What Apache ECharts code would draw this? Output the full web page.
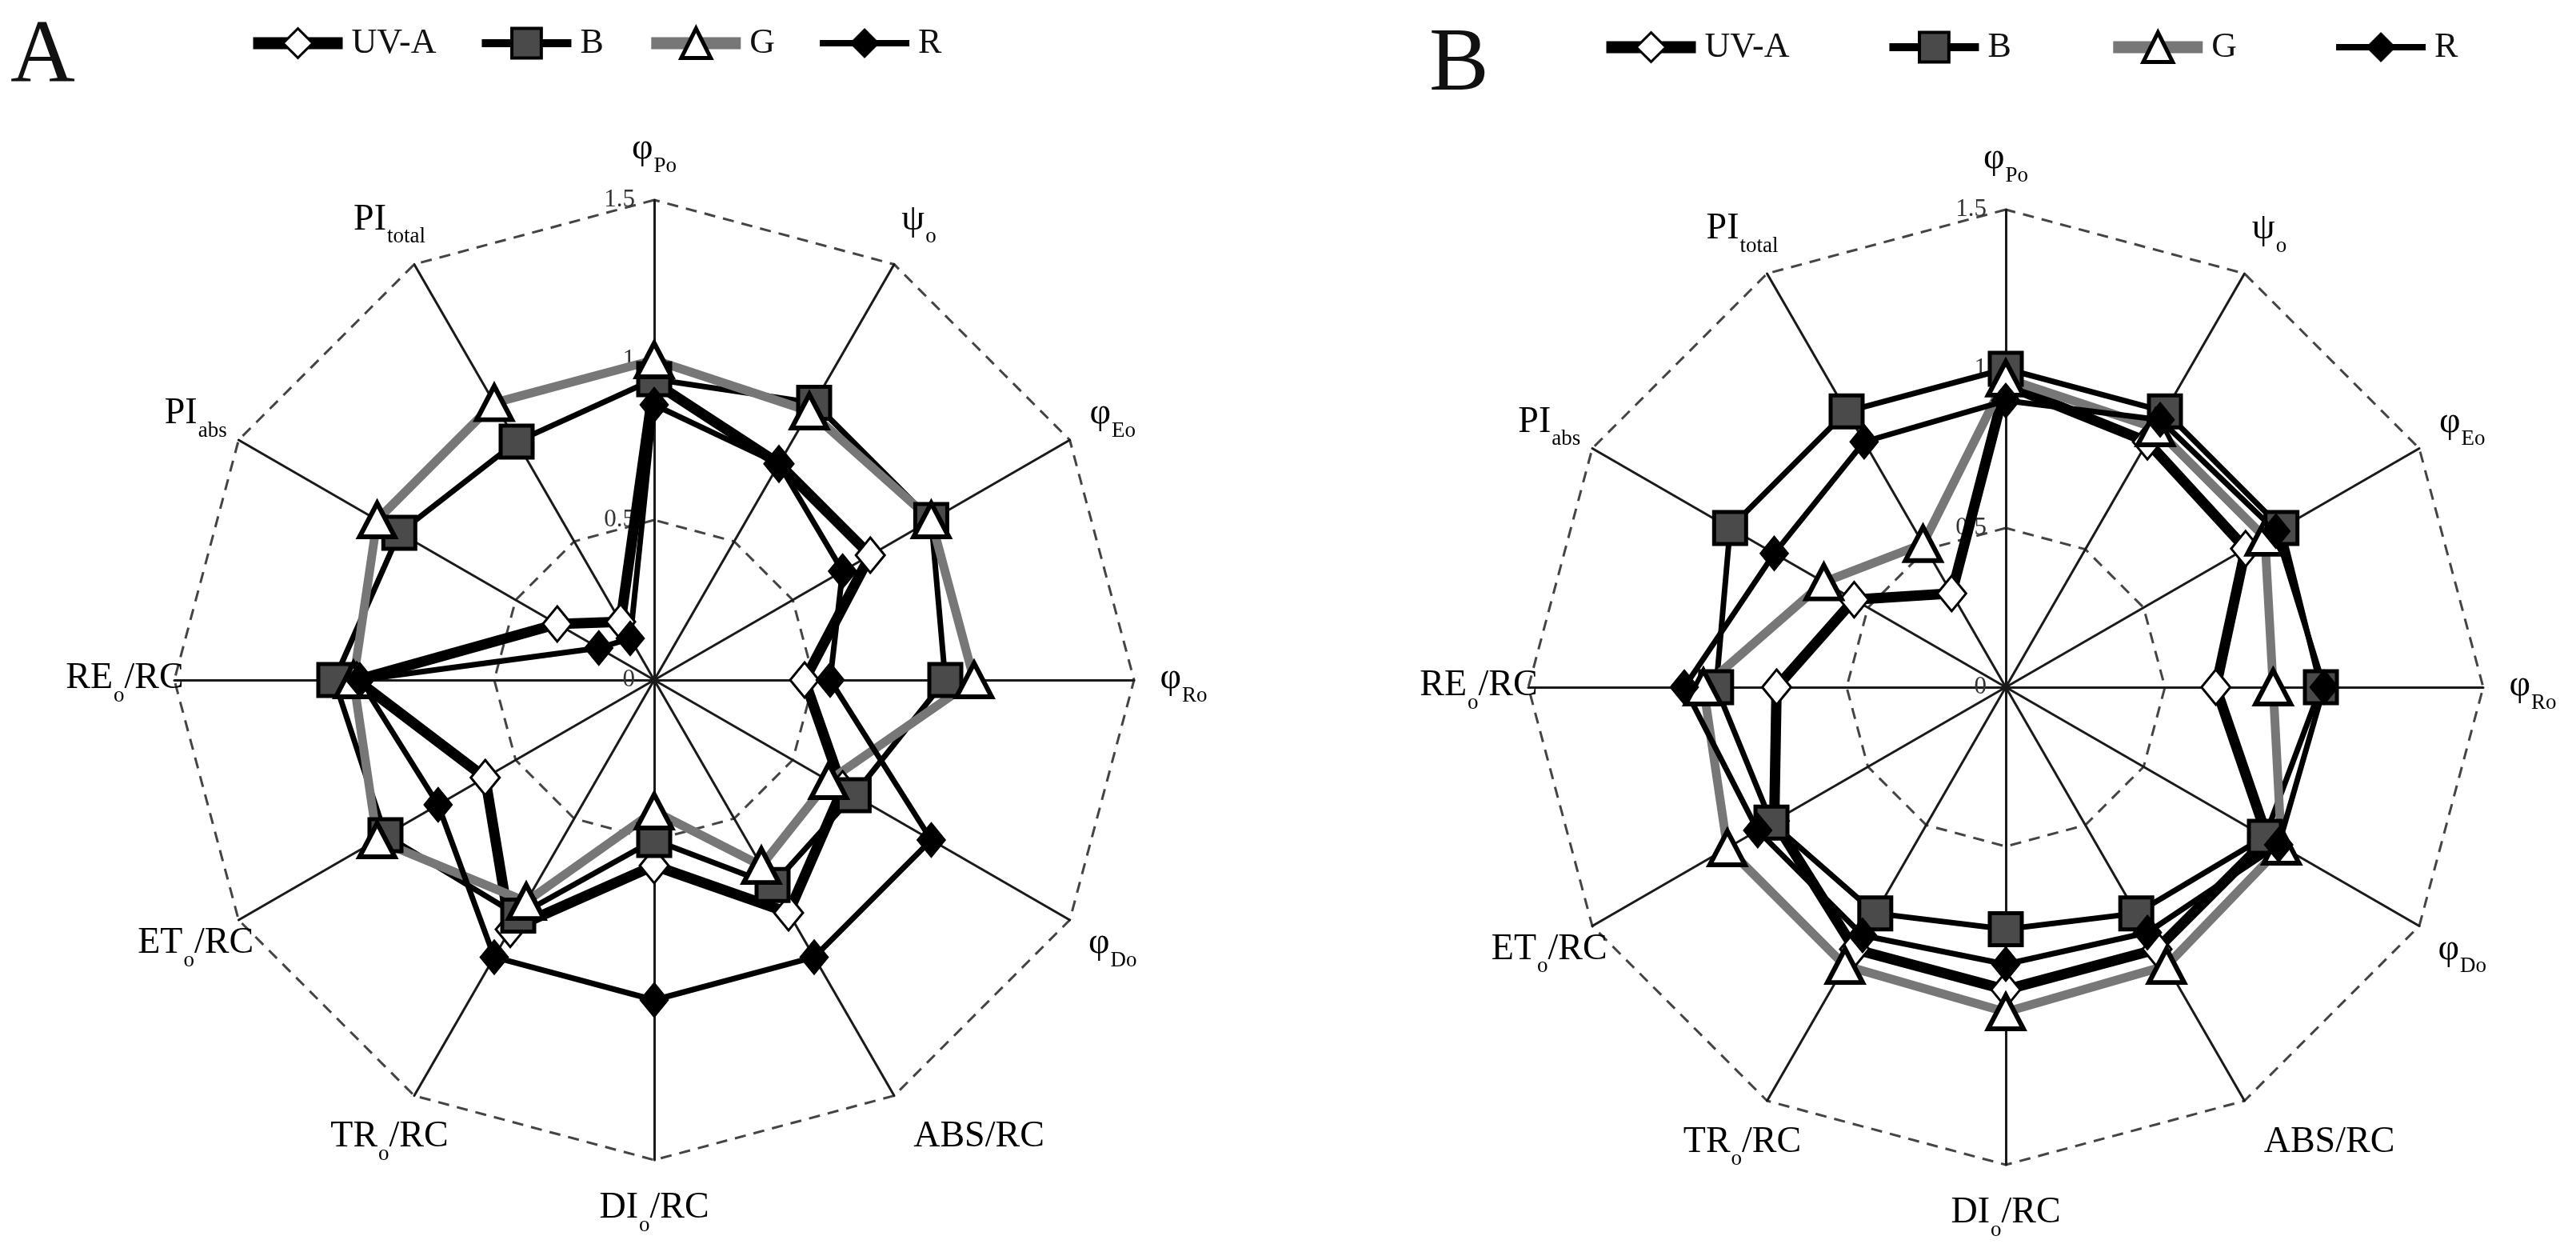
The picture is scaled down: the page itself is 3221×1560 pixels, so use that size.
<!DOCTYPE html>
<html><head><meta charset="utf-8">
<script src="https://cdn.jsdelivr.net/npm/echarts@6/dist/echarts.min.js"></script>
<style>html,body{margin:0;padding:0;background:#fff}#c{width:3221px;height:1560px}</style>
</head><body><div id="c"></div>
<script>
// Axis categories, clockwise from the top (rich-text markup gives the subscripts)
const categories = ['{m|φ}{s|Po}', '{m|ψ}{s|o}', '{m|φ}{s|Eo}', '{m|φ}{s|Ro}', '{m|φ}{s|Do}', '{w|ABS/RC}',
  '{m|DI}{s|o}{m|/RC}', '{m|TR}{s|o}{m|/RC}', '{m|ET}{s|o}{m|/RC}', '{m|RE}{s|o}{m|/RC}', '{m|PI}{s|abs}', '{m|PI}{s|total}'];
const seriesNames = ['UV-A', 'B', 'G', 'R'];
const tickLabels = ['0', '0.5', '1', '1.5'];
const panelLabels = ['A', 'B'];

// Panel A values (same clockwise order as categories)
const uvaA = [0.93, 0.78, 0.78, 0.47, 0.68, 0.84, 0.58, 0.90, 0.61, 0.93, 0.35, 0.21];
const bA   = [0.94, 1.00, 1.00, 0.91, 0.72, 0.74, 0.50, 0.85, 0.97, 1.00, 0.92, 0.86];
const gA   = [1.00, 0.97, 1.00, 1.00, 0.63, 0.67, 0.41, 0.80, 1.00, 0.94, 1.00, 1.00];
const rA   = [0.86, 0.78, 0.68, 0.55, 1.00, 1.00, 1.00, 1.00, 0.78, 0.92, 0.20, 0.15];
// Panel B values
const uvaB = [0.95, 0.89, 0.87, 0.66, 0.95, 0.95, 0.95, 0.95, 0.84, 0.72, 0.55, 0.34];
const bB   = [1.00, 1.00, 1.00, 0.99, 0.94, 0.82, 0.76, 0.82, 0.85, 0.91, 1.00, 1.00];
const gB   = [0.97, 0.94, 0.94, 0.84, 1.00, 1.01, 1.02, 1.01, 1.01, 0.95, 0.66, 0.52];
const rB   = [0.90, 0.97, 0.98, 1.00, 0.99, 0.89, 0.87, 0.90, 0.90, 1.01, 0.84, 0.89];

const FONT = 'Liberation Serif';
// ECharts lays radar indicators counter-clockwise; reorder clockwise arrays accordingly
const ecOrder = [0, 11, 10, 9, 8, 7, 6, 5, 4, 3, 2, 1];
const reorder = arr => ecOrder.map(i => arr[i]);

const styles = {
  'UV-A': {line: {color: '#000', width: 13}, symbol: 'diamond', size: [36, 44],
           item: {color: '#fff', borderColor: '#000', borderWidth: 3},
           legLine: 15, legBorder: 3},
  'B':    {line: {color: '#000', width: 7}, symbol: 'rect', size: 40,
           item: {color: '#4a4a4a', borderColor: '#000', borderWidth: 5},
           legLine: 10, legBorder: 4},
  'G':    {line: {color: '#777', width: 11}, symbol: 'triangle', size: [44, 42],
           item: {color: '#fff', borderColor: '#000', borderWidth: 6},
           legLine: 15, legBorder: 5},
  'R':    {line: {color: '#000', width: 7}, symbol: 'diamond', size: [36, 44],
           item: {color: '#000', borderColor: '#000', borderWidth: 1},
           legLine: 8, legBorder: 1}
};

function radarCfg(center, radius) {
  return {
    center: center, radius: radius, startAngle: 90, shape: 'polygon', splitNumber: 3,
    indicator: reorder(categories).map((name, k) => Object.assign({name: name, min: 0, max: 1.5},
      k === 0 ? {axisLabel: {show: true}} : {})),
    nameGap: 62,
    axisName: {
      color: '#000', fontFamily: FONT, fontSize: 46, align: 'center', verticalAlign: 'middle',
      rich: {
        m: {fontFamily: FONT, fontSize: 46, lineHeight: 50, verticalAlign: 'top', color: '#000'},
        w: {fontFamily: FONT, fontSize: 46, lineHeight: 50, verticalAlign: 'top', color: '#000', padding: [0, 0, 0, 150]},
        s: {fontFamily: FONT, fontSize: 27, lineHeight: 27, verticalAlign: 'top', padding: [31, 0, 0, 1], color: '#000'}
      }
    },
    axisLine: {lineStyle: {color: '#1a1a1a', width: 3}},
    axisTick: {show: false},
    axisLabel: {show: false, fontFamily: FONT, fontSize: 31, color: '#333', margin: 24, rotate: 0,
      padding: [0, 0, 26, 0],
      formatter: v => tickLabels[Math.round(v / 0.5)]},
    splitLine: {lineStyle: {color: ['#444', '#444', 'rgba(0,0,0,0)', '#444'], width: 3, type: [14, 10]}},
    splitArea: {show: false}
  };
}

function radarData(arrs) {
  return seriesNames.map((n, i) => ({
    name: n, value: reorder(arrs[i]), symbol: styles[n].symbol, symbolSize: styles[n].size,
    lineStyle: Object.assign({}, styles[n].line), itemStyle: Object.assign({}, styles[n].item)
  }));
}

const legendData = seriesNames.map(n => ({
  name: n,
  lineStyle: {color: styles[n].line.color, width: styles[n].legLine},
  itemStyle: {color: styles[n].item.color, borderColor: '#000', borderWidth: styles[n].legBorder}
}));
const legendCommon = {
  data: legendData, orient: 'horizontal', itemWidth: 112, itemHeight: 46, selectedMode: false,
  textStyle: {fontFamily: FONT, fontSize: 44, color: '#111', padding: [0, 0, 0, 6]}
};

const chart = echarts.init(document.getElementById('c'), null, {renderer: 'canvas'});
chart.setOption({
  animation: false,
  backgroundColor: '#fff',
  title: [
    {text: panelLabels[0], left: 8, top: 12, textStyle: {fontFamily: FONT, fontSize: 112, fontWeight: 'normal', color: '#111'}},
    {text: panelLabels[1], left: 1782, top: 22, textStyle: {fontFamily: FONT, fontSize: 112, fontWeight: 'normal', color: '#111'}}
  ],
  legend: [
    Object.assign({left: 304, top: 27, itemGap: 52}, legendCommon),
    Object.assign({left: 1996, top: 32, itemGap: 120}, legendCommon)
  ],
  grid: {left: 0, top: 0, width: 10, height: 10, show: false},
  xAxis: {type: 'category', show: false, data: []},
  yAxis: {type: 'value', show: false},
  radar: [radarCfg([818, 850], 600), radarCfg([2508, 859], 597)],
  series: [
    ...seriesNames.map(n => ({
      type: 'line', name: n, data: [], symbol: styles[n].symbol,
      lineStyle: Object.assign({}, styles[n].line), itemStyle: Object.assign({}, styles[n].item)
    })),
    {type: 'radar', name: 'Panel A', radarIndex: 0, data: radarData([uvaA, bA, gA, rA])},
    {type: 'radar', name: 'Panel B', radarIndex: 1, data: radarData([uvaB, bB, gB, rB])}
  ]
});
</script></body></html>
